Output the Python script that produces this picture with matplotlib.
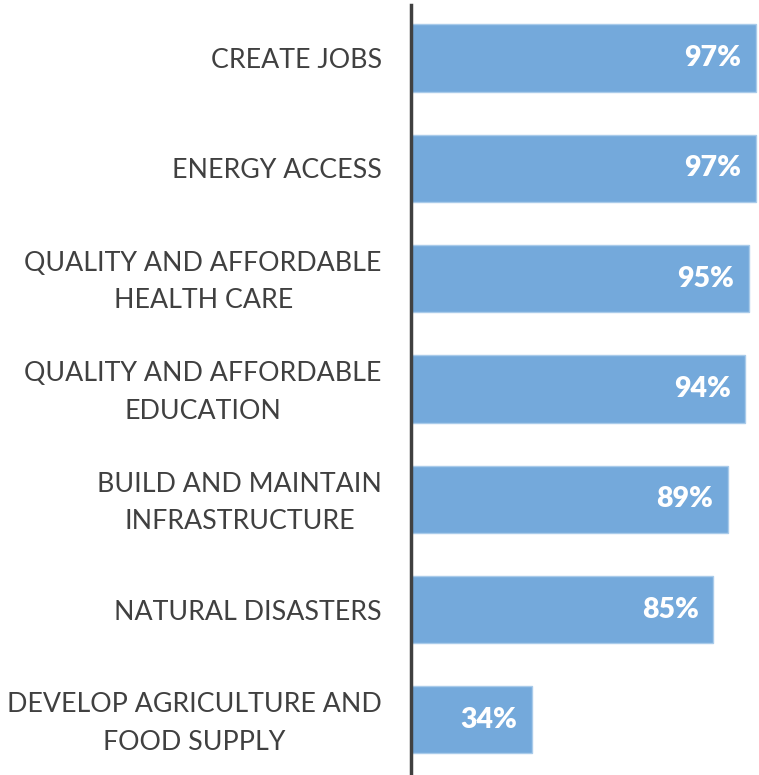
import matplotlib
matplotlib.use("Agg")
import matplotlib.pyplot as plt
from matplotlib.transforms import ScaledTranslation

categories = [
    "CREATE JOBS",
    "ENERGY ACCESS",
    "QUALITY AND AFFORDABLE\nHEALTH CARE",
    "QUALITY AND AFFORDABLE\nEDUCATION",
    "BUILD AND MAINTAIN\nINFRASTRUCTURE",
    "NATURAL DISASTERS",
    "DEVELOP AGRICULTURE AND\nFOOD SUPPLY",
]
values = [97, 97, 95, 94, 89, 85, 34]

plt.rcParams["font.family"] = ["Lato", "DejaVu Sans"]

W, H = 759, 775
fig = plt.figure(figsize=(W / 100, H / 100), dpi=100)
ax = fig.add_axes([411 / W, 0, (W - 411) / W, 770 / H])

pos = list(range(len(categories)))
fracs = [v / 100 for v in values]
ax.barh(pos, fracs, height=0.61, color="#74a9db", edgecolor="#a9cbea",
        linewidth=1.0, zorder=2)

for y, f, v in zip(pos, fracs, values):
    ax.text(f - 0.042, y, f"{v}%", ha="right", va="center", color="white",
            fontsize=20.5, fontweight="heavy", zorder=3)

ax.set_xlim(0, 0.978)
ax.set_ylim(6.5, -0.48)
ax.set_yticks(pos)
ax.set_yticklabels(categories, fontsize=19.3, color="#404040",
                   multialignment="center", linespacing=1.62)
ax.tick_params(axis="y", length=0, pad=21)
ax.set_xticks([])

# two-line labels sit a little low; nudge them up so they centre on the bar
lift = ScaledTranslation(0, 5 / 100, fig.dpi_scale_trans)
for lbl in ax.get_yticklabels():
    if "\n" in lbl.get_text():
        lbl.set_transform(lbl.get_transform() + lift)

for s in ["top", "right", "bottom"]:
    ax.spines[s].set_visible(False)
ax.spines["left"].set_color("#404040")
ax.spines["left"].set_linewidth(2.5)
ax.spines["left"].set_zorder(4)

fig.savefig("out.png", dpi=100, facecolor="white")
